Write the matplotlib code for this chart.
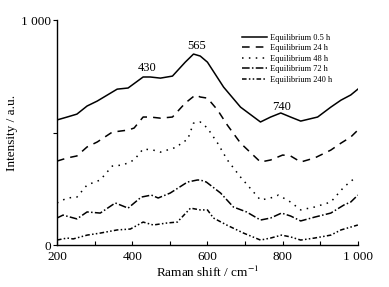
import matplotlib
matplotlib.use("Agg")
import matplotlib.pyplot as plt
from matplotlib.ticker import FixedLocator, FixedFormatter

plt.rcParams['font.family'] = ['Liberation Serif', 'DejaVu Serif']
plt.rcParams['mathtext.fontset'] = 'stix'

labels = ["Equilibrium 0.5 h", "Equilibrium 24 h", "Equilibrium 48 h",
          "Equilibrium 72 h", "Equilibrium 240 h"]

x_05 = [200, 227, 253, 280, 307, 360, 389, 429, 448, 475, 507, 541, 563, 581, 600,
        643, 688, 741, 768, 795, 821, 848, 893, 928, 955, 981, 1000]
y_05 = [556, 569, 582, 618, 640, 693, 698, 747, 747, 742, 751, 813, 849, 840, 813,
        702, 613, 547, 569, 587, 569, 551, 569, 613, 644, 667, 693]

x_24 = [200, 227, 253, 280, 307, 347, 389, 405, 429, 448, 475, 507, 541, 568, 581, 600,
        627, 653, 688, 741, 768, 800, 821, 848, 885, 928, 955, 981, 1000]
y_24 = [373, 387, 396, 436, 458, 502, 511, 520, 569, 569, 564, 569, 631, 667, 658, 653,
        600, 533, 453, 369, 378, 400, 396, 369, 387, 422, 453, 480, 511]

x_48 = [200, 227, 253, 280, 315, 347, 376, 405, 429, 456, 475, 520, 533, 547, 563, 581,
        600, 627, 653, 688, 741, 768, 789, 821, 848, 885, 928, 963, 995]
y_48 = [187, 209, 213, 267, 289, 351, 356, 378, 427, 422, 413, 436, 458, 467, 542, 547,
        520, 453, 378, 302, 200, 209, 222, 191, 156, 169, 191, 258, 302]

x_72 = [200, 216, 253, 280, 315, 355, 389, 424, 451, 469, 501, 547, 573, 581, 597,
        635, 669, 704, 741, 768, 797, 821, 848, 885, 928, 963, 981, 1000]
y_72 = [120, 133, 116, 147, 142, 187, 164, 213, 222, 209, 231, 280, 289, 289, 280,
        231, 169, 147, 111, 120, 142, 129, 107, 124, 142, 178, 191, 222]

x_240 = [200, 227, 243, 280, 315, 360, 395, 429, 456, 493, 520, 555, 581, 600, 616,
         651, 696, 741, 768, 797, 821, 848, 885, 928, 955, 1000]
y_240 = [22, 31, 27, 44, 53, 67, 71, 102, 89, 98, 102, 164, 156, 156, 120,
         89, 53, 22, 31, 44, 36, 22, 31, 44, 67, 89]

series_x = [x_05, x_24, x_48, x_72, x_240]
series_y = [y_05, y_24, y_48, y_72, y_240]
styles = ['-', (0, (5, 4)), (0, (1, 3.5)), (0, (5, 1.5, 1, 1.5)), (0, (3, 1.5, 1, 1.5, 1, 1.5))]

annot_text = ["430", "565", "740"]
annot_x = [440, 571, 797]
annot_y = [787, 884, 613]

x_major = [200, 400, 600, 800, 1000]
x_major_labels = ["200", "400", "600", "800", "1 000"]
x_minor = [300, 500, 700, 900]
y_major = [0, 500, 1000]
y_major_labels = ["0", "", "1 000"]

fig = plt.figure(figsize=(3.89, 2.87), dpi=100)
ax = fig.add_axes([0.1465, 0.1463, 0.920 - 0.1465, 0.930 - 0.1463])

for xs, ys, ls, lab in zip(series_x, series_y, styles, labels):
    ax.plot(xs, ys, color='black', linestyle=ls, linewidth=1.1, label=lab)

for t, xx, yy in zip(annot_text, annot_x, annot_y):
    ax.text(xx, yy, t, ha='center', va='center', fontsize=9)

ax.set_xlim(200, 1000)
ax.set_ylim(0, 1000)
ax.xaxis.set_major_locator(FixedLocator(x_major))
ax.xaxis.set_major_formatter(FixedFormatter(x_major_labels))
ax.xaxis.set_minor_locator(FixedLocator(x_minor))
ax.yaxis.set_major_locator(FixedLocator(y_major))
ax.yaxis.set_major_formatter(FixedFormatter(y_major_labels))
ax.tick_params(axis='y', which='major', labelsize=9.5, length=3, width=0.8, direction='out', pad=1.5)
ax.tick_params(axis='x', which='major', labelsize=9.5, length=3, width=0.8, direction='in', pad=4.5)
ax.tick_params(axis='x', which='minor', length=3, width=0.8, direction='in')
for s in ['top', 'right']:
    ax.spines[s].set_visible(False)
for s in ['left', 'bottom']:
    ax.spines[s].set_linewidth(1.0)

ax.set_xlabel("Raman shift / cm$^{-1}$", fontsize=9.5, labelpad=1)
ax.set_ylabel("Intensity / a.u.", fontsize=9.5, labelpad=2)

leg = ax.legend(loc='upper left', bbox_to_anchor=(0.605, 0.955), fontsize=6, frameon=False,
                handlelength=3.0, handletextpad=0.3, labelspacing=0.3, borderaxespad=0)

fig.savefig("out.png", dpi=100)
